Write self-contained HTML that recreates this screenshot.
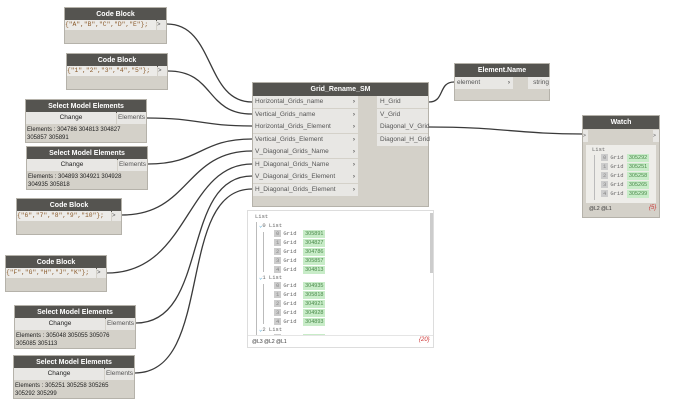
<!DOCTYPE html>
<html><head><meta charset="utf-8"><style>
body{margin:0;width:690px;height:418px;background:#fff;position:relative;overflow:hidden;font-family:"Liberation Sans",sans-serif;}
.n{position:absolute;background:#d4d1c9;border:1px solid #b5b2aa;box-sizing:border-box;}
.h{background:#555450;color:#fff;font-size:7px;font-weight:bold;text-align:center;height:13px;line-height:13px;}
.code{position:absolute;font-family:"Liberation Mono",monospace;font-size:6.3px;color:#8a5a2a;background:#ecebe8;height:10px;line-height:10px;overflow:hidden;white-space:nowrap;}
.pt{position:absolute;background:#e8e7e4;font-size:6.5px;color:#555;line-height:12px;height:12px;}
.a{position:absolute;font-size:6px;color:#666;}
.t{position:absolute;font-size:6px;color:#222;line-height:8px;}
.r{position:absolute;font-family:"Liberation Mono",monospace;font-size:5.5px;color:#666;line-height:8px;height:8px;white-space:nowrap;}
.g{display:inline-block;background:#c8ecc8;color:#4a8a4a;font-family:"Liberation Sans",sans-serif;padding:0 2px;line-height:8px;}
.i{display:inline-block;background:#ccc;color:#888;padding:0 2px;line-height:7px;margin-right:2px;}
.vl{position:absolute;width:1px;background:#bbb;}
</style></head><body>
<svg width="690" height="418" style="position:absolute;left:0;top:0" fill="none" stroke="#3a3a3a" stroke-width="1.3">
<path d="M167 24 C215 24,205 102,252 102"/>
<path d="M168 71 C215 71,205 114,252 114"/>
<path d="M147 118 C200 118,200 126,252 126"/>
<path d="M148 164 C200 164,200 139,252 139"/>
<path d="M122 215 C190 215,185 151,252 151"/>
<path d="M107 273 C190 273,185 164,252 164"/>
<path d="M136 323 C210 323,180 176,252 176"/>
<path d="M135 373 C215 373,175 189,252 189"/>
<path d="M429 102 C445 102,438 82,454 82"/>
<path d="M429 127 C500 127,520 134,582 134"/>
</svg>

<div class="n" style="left:64px;top:7px;width:103px;height:37px"><div class="h">Code Block</div></div>
<div class="code" style="left:65px;top:20px;width:91px">{"A","B","C","D","E"};</div>
<div class="pt" style="left:157px;top:20px;width:9px;height:10px;line-height:10px;font-size:6px">&gt;</div>

<div class="n" style="left:66px;top:53px;width:102px;height:37px"><div class="h">Code Block</div></div>
<div class="code" style="left:67px;top:66px;width:90px">{"1","2","3","4","5"};</div>
<div class="pt" style="left:158px;top:66px;width:9px;height:10px;line-height:10px;font-size:6px">&gt;</div>

<div class="n" style="left:16px;top:198px;width:106px;height:37px"><div class="h">Code Block</div></div>
<div class="code" style="left:17px;top:211px;width:94px">{"6","7","8","9","10"};</div>
<div class="pt" style="left:112px;top:211px;width:9px;height:10px;line-height:10px;font-size:6px">&gt;</div>

<div class="n" style="left:5px;top:255px;width:102px;height:37px"><div class="h">Code Block</div></div>
<div class="code" style="left:6px;top:268px;width:90px">{"F","G","H","J","K"};</div>
<div class="pt" style="left:97px;top:268px;width:9px;height:10px;line-height:10px;font-size:6px">&gt;</div>

<div class="n" style="left:25px;top:99px;width:122px;height:44px"><div class="h">Select Model Elements</div></div>
<div class="pt" style="left:26px;top:112px;width:90px;text-align:center;color:#222">Change</div>
<div class="pt" style="left:117px;top:112px;width:29px;text-align:center">Elements</div>
<div class="t" style="left:27px;top:126px">Elements : 304786 304813 304827<br>305857 305891</div>

<div class="n" style="left:26px;top:146px;width:122px;height:44px"><div class="h">Select Model Elements</div></div>
<div class="pt" style="left:27px;top:159px;width:90px;text-align:center;color:#222">Change</div>
<div class="pt" style="left:118px;top:159px;width:29px;text-align:center">Elements</div>
<div class="t" style="left:28px;top:173px">Elements : 304893 304921 304928<br>304935 305818</div>

<div class="n" style="left:14px;top:305px;width:122px;height:44px"><div class="h">Select Model Elements</div></div>
<div class="pt" style="left:15px;top:318px;width:90px;text-align:center;color:#222">Change</div>
<div class="pt" style="left:106px;top:318px;width:29px;text-align:center">Elements</div>
<div class="t" style="left:16px;top:332px">Elements : 305048 305055 305076<br>305085 305113</div>

<div class="n" style="left:13px;top:355px;width:122px;height:44px"><div class="h">Select Model Elements</div></div>
<div class="pt" style="left:14px;top:368px;width:90px;text-align:center;color:#222">Change</div>
<div class="pt" style="left:105px;top:368px;width:29px;text-align:center">Elements</div>
<div class="t" style="left:15px;top:382px">Elements : 305251 305258 305265<br>305292 305299</div>

<div class="n" style="left:252px;top:82px;width:177px;height:125px"><div class="h">Grid_Rename_SM</div></div>
<div class="pt" style="left:253px;top:96px;width:103px;padding-left:2px">Horizontal_Grids_name<span style="position:absolute;right:3px;font-weight:bold">›</span></div>
<div class="pt" style="left:253px;top:108.5px;width:103px;padding-left:2px">Vertical_Grids_name<span style="position:absolute;right:3px;font-weight:bold">›</span></div>
<div class="pt" style="left:253px;top:121px;width:103px;padding-left:2px">Horizontal_Grids_Element<span style="position:absolute;right:3px;font-weight:bold">›</span></div>
<div class="pt" style="left:253px;top:133.5px;width:103px;padding-left:2px">Vertical_Grids_Element<span style="position:absolute;right:3px;font-weight:bold">›</span></div>
<div class="pt" style="left:253px;top:146px;width:103px;padding-left:2px">V_Diagonal_Grids_Name<span style="position:absolute;right:3px;font-weight:bold">›</span></div>
<div class="pt" style="left:253px;top:158.5px;width:103px;padding-left:2px">H_Diagonal_Grids_Name<span style="position:absolute;right:3px;font-weight:bold">›</span></div>
<div class="pt" style="left:253px;top:171px;width:103px;padding-left:2px">V_Diagonal_Grids_Element<span style="position:absolute;right:3px;font-weight:bold">›</span></div>
<div class="pt" style="left:253px;top:183.5px;width:103px;padding-left:2px">H_Diagonal_Grids_Element<span style="position:absolute;right:3px;font-weight:bold">›</span></div>
<div class="pt" style="left:377px;top:96px;width:48px;padding-left:3px">H_Grid</div>
<div class="pt" style="left:377px;top:108.5px;width:48px;padding-left:3px">V_Grid</div>
<div class="pt" style="left:377px;top:121px;width:48px;padding-left:3px">Diagonal_V_Grid</div>
<div class="pt" style="left:377px;top:133.5px;width:48px;padding-left:3px">Diagonal_H_Grid</div>

<!-- preview list -->
<div style="position:absolute;left:247px;top:210px;width:187px;height:138px;border:1px solid #ddd;box-sizing:border-box;background:#fff;overflow:hidden">
<div class="vl" style="left:8px;top:11px;height:115px"></div>
<div class="vl" style="left:15px;top:21px;height:40px"></div>
<div class="vl" style="left:15px;top:73px;height:40px"></div>
<div class="r" style="left:7px;top:2px">List</div>
<div class="r" style="left:11px;top:11px"><span style="color:#39c">⌄</span>0 List</div>
<div class="r" style="left:26px;top:19px"><span class="i">0</span>Grid &nbsp;<span class="g">305891</span></div>
<div class="r" style="left:26px;top:28px"><span class="i">1</span>Grid &nbsp;<span class="g">304827</span></div>
<div class="r" style="left:26px;top:37px"><span class="i">2</span>Grid &nbsp;<span class="g">304786</span></div>
<div class="r" style="left:26px;top:46px"><span class="i">3</span>Grid &nbsp;<span class="g">305857</span></div>
<div class="r" style="left:26px;top:55px"><span class="i">4</span>Grid &nbsp;<span class="g">304813</span></div>
<div class="r" style="left:11px;top:63px"><span style="color:#39c">⌄</span>1 List</div>
<div class="r" style="left:26px;top:71px"><span class="i">0</span>Grid &nbsp;<span class="g">304935</span></div>
<div class="r" style="left:26px;top:80px"><span class="i">1</span>Grid &nbsp;<span class="g">305818</span></div>
<div class="r" style="left:26px;top:89px"><span class="i">2</span>Grid &nbsp;<span class="g">304921</span></div>
<div class="r" style="left:26px;top:98px"><span class="i">3</span>Grid &nbsp;<span class="g">304928</span></div>
<div class="r" style="left:26px;top:107px"><span class="i">4</span>Grid &nbsp;<span class="g">304893</span></div>
<div class="r" style="left:11px;top:115px"><span style="color:#39c">⌄</span>2 List</div>
<div class="r" style="left:26px;top:123px"><span class="i">0</span>Grid &nbsp;<span class="g">305048</span></div>
<div style="position:absolute;left:0;top:124px;width:187px;height:14px;background:#fff;border-top:1px solid #e5e5e5"></div>
<div style="position:absolute;left:182px;top:2px;width:3px;height:60px;background:#ccc"></div>
</div>
<div class="a" style="left:252px;top:339px;font-size:5px;color:#333">@L3 @L2 @L1</div>
<div class="a" style="left:419px;top:337px;color:#c33;font-style:italic">{20}</div>

<div class="n" style="left:454px;top:63px;width:96px;height:38px"><div class="h">Element.Name</div></div>
<div class="pt" style="left:455px;top:77px;width:56px;padding-left:2px">element<span style="position:absolute;right:3px;font-weight:bold">›</span></div>
<div class="pt" style="left:528px;top:77px;width:21px;text-align:right;padding-right:1px">string</div>

<div class="n" style="left:582px;top:115px;width:78px;height:103px"><div class="h">Watch</div></div>
<div class="pt" style="left:583px;top:130px;width:5px;font-size:5px">&gt;</div>
<div class="pt" style="left:653px;top:130px;width:6px;font-size:5px">&gt;</div>
<div style="position:absolute;left:586px;top:145px;width:70px;height:58px;background:#eeede9"></div>
<div class="vl" style="left:594px;top:155px;height:45px"></div>
<div class="r" style="left:592px;top:146px">List</div>
<div class="r" style="left:601px;top:154px"><span class="i">0</span>Grid <span class="g">305292</span></div>
<div class="r" style="left:601px;top:163px"><span class="i">1</span>Grid <span class="g">305251</span></div>
<div class="r" style="left:601px;top:172px"><span class="i">2</span>Grid <span class="g">305258</span></div>
<div class="r" style="left:601px;top:181px"><span class="i">3</span>Grid <span class="g">305265</span></div>
<div class="r" style="left:601px;top:190px"><span class="i">4</span>Grid <span class="g">305299</span></div>
<div class="a" style="left:589px;top:206px;font-size:5px;color:#333">@L2 @L1</div>
<div class="a" style="left:649px;top:205px;color:#c33;font-style:italic">{5}</div>
</body></html>
